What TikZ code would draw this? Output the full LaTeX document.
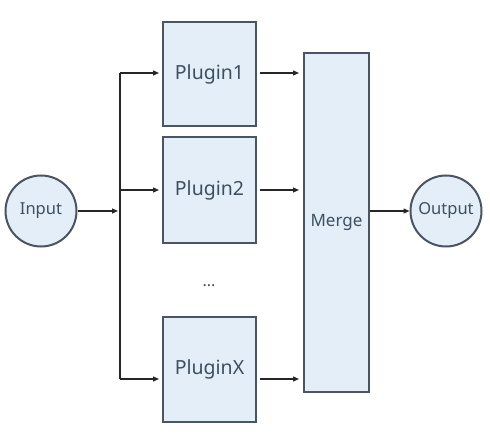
\documentclass[tikz,border=0pt]{standalone}
\usepackage{fontspec}
\setmainfont{Noto Sans}
\usetikzlibrary{arrows.meta}
\definecolor{boxfill}{HTML}{E3EEF9}
\definecolor{boxline}{HTML}{4A5561}
\definecolor{txt}{HTML}{3D4F60}
\begin{document}
\begin{tikzpicture}[x=1pt,y=-1pt,
  box/.style={draw=boxline,fill=boxfill,line width=2pt,inner sep=0pt,text=txt,font=\fontsize{19.5}{22}\selectfont},
  circ/.style={circle,draw=boxline,fill=boxfill,line width=2pt,inner sep=0pt,minimum size=71pt,text=txt,font=\fontsize{16.5}{19}\selectfont},
  conn/.style={draw=black!85,line width=1.3pt,-{Triangle[length=6pt,width=5pt]}}]
\useasboundingbox (0,0) rectangle (490,438);
\fill[white] (0,0) rectangle (490,438);
\node[circ] (in) at (41,211) {Input};
\node[circ] (out) at (446,211) {Output};
\node[box,minimum width=93pt,minimum height=104pt] (p1) at (209.5,74) {Plugin1};
\node[box,minimum width=93pt,minimum height=106pt] (p2) at (209.5,190) {Plugin2};
\node[box,minimum width=93pt,minimum height=105pt] (px) at (209.5,369.5) {PluginX};
\node[text=txt,font=\fontsize{16}{19}\selectfont] (dots) at (209,286) {...};
\node[box,minimum width=65pt,minimum height=339pt,font=\fontsize{17}{20}\selectfont] (m) at (336.5,222.5) {Merge};
\coordinate (j) at (120,211);
\coordinate (jt) at (120,73);
\coordinate (jb) at (120,379);
\draw[conn] (in.east) -- ([xshift=-2pt]j);
\draw[draw=black!85,line width=1.3pt] (jt) -- (jb);
\draw[conn] (jt) -- ([xshift=-3pt]p1.west |- jt);
\draw[conn] (120,190) -- ([xshift=-3pt]p2.west |- 120,190);
\draw[conn] (jb) -- ([xshift=-3pt]px.west |- jb);
\draw[conn] ([xshift=3pt]p1.east |- jt) -- ([xshift=-4pt]m.west |- jt);
\draw[conn] ([xshift=3pt]p2.east |- 120,190) -- ([xshift=-4pt]m.west |- 120,190);
\draw[conn] ([xshift=3pt]px.east |- jb) -- ([xshift=-4pt]m.west |- jb);
\draw[conn] (m.east |- out) -- (out.west);
\end{tikzpicture}
\end{document}
